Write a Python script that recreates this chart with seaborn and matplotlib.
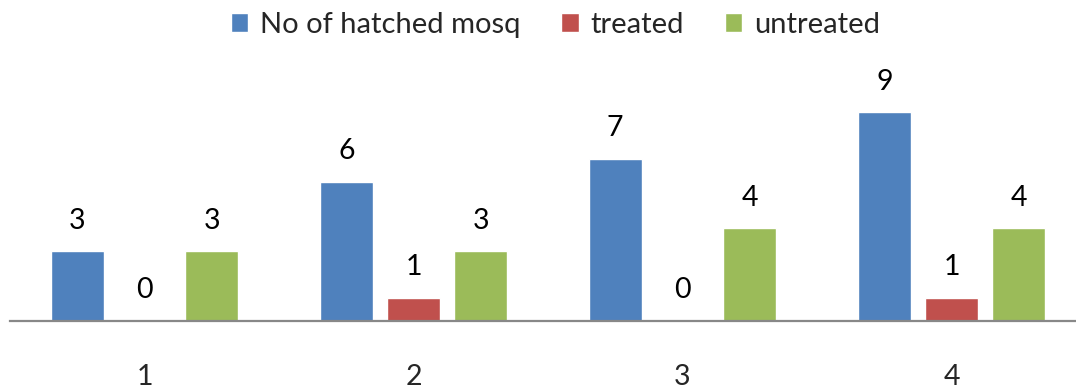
import matplotlib
matplotlib.use("Agg")
import matplotlib.pyplot as plt
import seaborn as sns
import pandas as pd

# Data
trials = ["1", "2", "3", "4"]
hatched = [3, 6, 7, 9]
treated = [0, 1, 0, 1]
untreated = [3, 3, 4, 4]
series_names = ["No of hatched mosq", "treated", "untreated"]
colors = ["#4F81BD", "#C0504D", "#9BBB59"]

rows = []
for name, vals in zip(series_names, [hatched, treated, untreated]):
    for t, v in zip(trials, vals):
        rows.append({"trial": t, "series": name, "value": v})
df = pd.DataFrame(rows)

sns.set_theme(style="white")
plt.rcParams["font.family"] = ["Lato", "DejaVu Sans"]

fig = plt.figure(figsize=(10.76, 3.88), dpi=100)
ax = fig.add_axes([10 / 1076, 67 / 388, 1076 / 1076, 232 / 388])

sns.barplot(data=df, x="trial", y="value", hue="series", order=trials,
            hue_order=series_names, palette=colors, width=0.75, gap=0.21,
            saturation=1, errorbar=None, ax=ax, legend=True)

ax.set_xlim(-0.5, 3.5)
ax.set_ylim(0, 10)

# Value labels above each bar
for container in ax.containers:
    for bar in container:
        h = bar.get_height()
        ax.annotate(f"{int(h)}", (bar.get_x() + bar.get_width() / 2, h),
                    xytext=(0, 22), textcoords="offset points",
                    ha="center", va="center", fontsize=20.5, color="black")

for side in ["left", "right", "top"]:
    ax.spines[side].set_visible(False)
ax.spines["bottom"].set_color("#888888")
ax.spines["bottom"].set_linewidth(1.6)
ax.set_yticks([])
ax.set_xlabel("")
ax.set_ylabel("")
ax.tick_params(axis="x", length=0, pad=31, labelsize=20.5)

handles, labels = ax.get_legend_handles_labels()
ax.legend_.remove()
fig.legend(handles, labels, loc="center", bbox_to_anchor=(0.516, 1 - 25 / 388),
           ncol=3, frameon=False, fontsize=21, handlelength=0.6, handleheight=0.6,
           handletextpad=0.4, columnspacing=1.4, borderaxespad=0)

fig.savefig("out.png", dpi=100)
